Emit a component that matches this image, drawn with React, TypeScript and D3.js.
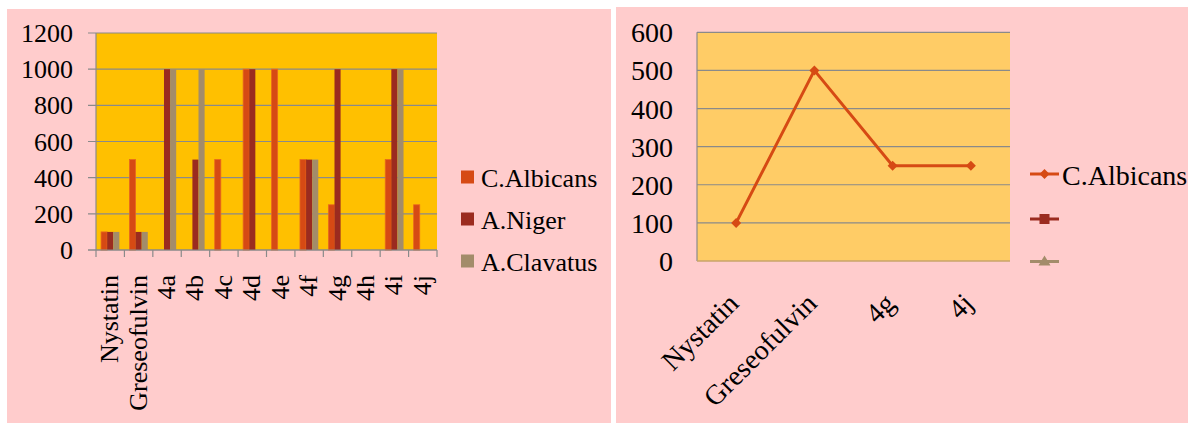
import React from "react";
import * as d3 from "d3";

const barCategories = ["Nystatin", "Greseofulvin", "4a", "4b", "4c", "4d", "4e", "4f", "4g", "4h", "4i", "4j"];
const seriesNames = ["C.Albicans", "A.Niger", "A.Clavatus"];
const cAlbicans = [100, 500, 0, 0, 500, 1000, 1000, 500, 250, 0, 500, 250];
const aNiger = [100, 100, 1000, 500, 0, 1000, 0, 500, 1000, 0, 1000, 0];
const aClavatus = [100, 100, 1000, 1000, 0, 0, 0, 500, 0, 0, 1000, 0];
const barTicks = [0, 200, 400, 600, 800, 1000, 1200];

const lineCategories = ["Nystatin", "Greseofulvin", "4g", "4j"];
const lineValues = [100, 500, 250, 250];
const lineTicks = [0, 100, 200, 300, 400, 500, 600];

const colors = ["#D64A14", "#9B2B1F", "#A38C6A"];
const FONT = "'Liberation Serif', serif";
const ts = (size: number) => ({ fontFamily: FONT, fontSize: size });

function BarPanel() {
  const x0 = 96, x1 = 437, yTop = 33, yBot = 250;
  const x = d3.scaleBand<string>().domain(barCategories).range([x0, x1]).paddingInner(0).paddingOuter(0);
  const y = d3.scaleLinear().domain([0, 1200]).range([yBot, yTop]);
  const bw = x.bandwidth();
  const barW = 6.1;
  const series = [cAlbicans, aNiger, aClavatus];
  return (
    <>
      <rect x={7} y={9} width={604} height={414} fill="#FFCCCC" />
      <rect x={x0} y={yTop} width={x1 - x0} height={yBot - yTop} fill="#FFC000" />
      {barTicks.map((t) => (
        <line key={t} x1={x0 - 8} x2={x1} y1={y(t)} y2={y(t)} stroke="#8A8A8A" strokeWidth={1.2} />
      ))}
      {barTicks.map((t) => (
        <text key={"l" + t} x={73} y={y(t) + 9} textAnchor="end" style={ts(26)} fill="#000">
          {String(t)}
        </text>
      ))}
      {barCategories.map((c, i) =>
        series.map((s, k) => {
          const v = s[i];
          if (!v) return null;
          const cx = (x(c) as number) + bw / 2;
          const bx = cx - 1.5 * barW + k * barW;
          return (
            <rect key={c + k} x={bx} y={y(v)} width={barW} height={yBot - y(v)} fill={colors[k]} stroke={k === 0 ? "#E8681E" : "none"} strokeWidth={0.8} />
          );
        })
      )}
      <line x1={x0} x2={x0} y1={yTop} y2={yBot} stroke="#8A8A8A" strokeWidth={1.2} />
      <line x1={x0 - 8} x2={x1} y1={yBot} y2={yBot} stroke="#8A8A8A" strokeWidth={1.2} />
      {[...barCategories.map((c) => x(c) as number), x1].map((tx, i) => (
        <line key={"t" + i} x1={tx} x2={tx} y1={yBot} y2={yBot + 7} stroke="#8A8A8A" strokeWidth={1.2} />
      ))}
      {barCategories.map((c) => {
        const cx = (x(c) as number) + bw / 2;
        return (
          <text key={"c" + c} transform={`translate(${cx + 8},275) rotate(-90)`} textAnchor="end" style={ts(26)} fill="#000">
            {c}
          </text>
        );
      })}
      {seriesNames.map((n, k) => (
        <rect key={"s" + n} x={461} y={177 + k * 42 - 6.5} width={13} height={13} fill={colors[k]} />
      ))}
      {seriesNames.map((n, k) => (
        <text key={"n" + n} x={481} y={177 + k * 42 + 10} style={ts(26)} fill="#000">{n}</text>
      ))}
    </>
  );
}

function LinePanel() {
  const x0 = 697, x1 = 1010, yTop = 32.3, yBot = 261;
  const x = d3.scalePoint<string>().domain(lineCategories).range([x0, x1]).padding(0.5);
  const y = d3.scaleLinear().domain([0, 600]).range([yBot, yTop]);
  const pts: [number, number][] = lineCategories.map((c, i) => [x(c) as number, y(lineValues[i])]);
  const path = d3.line()(pts) as string;
  const diamond = (cx: number, cy: number, r: number) => `M${cx},${cy - r}L${cx + r},${cy}L${cx},${cy + r}L${cx - r},${cy}Z`;
  const mx = 1044.5;
  const ly = [174, 219, 261.5];
  return (
    <>
      <rect x={616} y={7} width={572} height={416} fill="#FFCCCC" />
      <rect x={x0} y={yTop} width={x1 - x0} height={yBot - yTop} fill="#FFCC66" />
      {lineTicks.slice(1).map((t) => (
        <line key={t} x1={x0} x2={x1} y1={y(t)} y2={y(t)} stroke="#8A8A8A" strokeWidth={1.2} />
      ))}
      <line x1={x0} x2={x0} y1={yTop} y2={yBot} stroke="#8A8A8A" strokeWidth={1.2} />
      <line x1={x0} x2={x1} y1={yBot} y2={yBot} stroke="#C9A46A" strokeWidth={1.5} />
      {lineTicks.map((t) => (
        <text key={"l" + t} x={673} y={y(t) + 10} textAnchor="end" style={ts(28)} fill="#000">
          {String(t)}
        </text>
      ))}
      <path d={path} fill="none" stroke={colors[0]} strokeWidth={3} />
      {pts.map(([px, py], i) => (
        <path key={i} d={diamond(px, py, 5)} fill={colors[0]} />
      ))}
      {lineCategories.map((c) => {
        const cx = x(c) as number;
        return (
          <text key={"c" + c} transform={`translate(${cx + 4},305) rotate(-45)`} textAnchor="end" style={ts(28)} fill="#000">
            {c}
          </text>
        );
      })}
      {[0, 1, 2].map((k) => (
        <line key={"ll" + k} x1={1030} x2={1059} y1={ly[k]} y2={ly[k]} stroke={colors[k]} strokeWidth={3} />
      ))}
      <path d={diamond(mx, ly[0], 5)} fill={colors[0]} />
      <rect x={mx - 5} y={ly[1] - 5} width={10} height={10} fill={colors[1]} />
      <path d={`M${mx},${ly[2] - 6}L${mx + 6},${ly[2] + 4}L${mx - 6},${ly[2] + 4}Z`} fill={colors[2]} />
      <text x={1062} y={185} style={ts(28)} fill="#000">{seriesNames[0]}</text>
    </>
  );
}

export default function App() {
  return (
    <div style={{ position: "absolute", left: 0, top: 0, width: 1188, height: 423 }}>
      <svg width={1188} height={423} style={{ display: "block", background: "#fff" }}>
        <BarPanel />
        <LinePanel />
      </svg>
    </div>
  );
}
